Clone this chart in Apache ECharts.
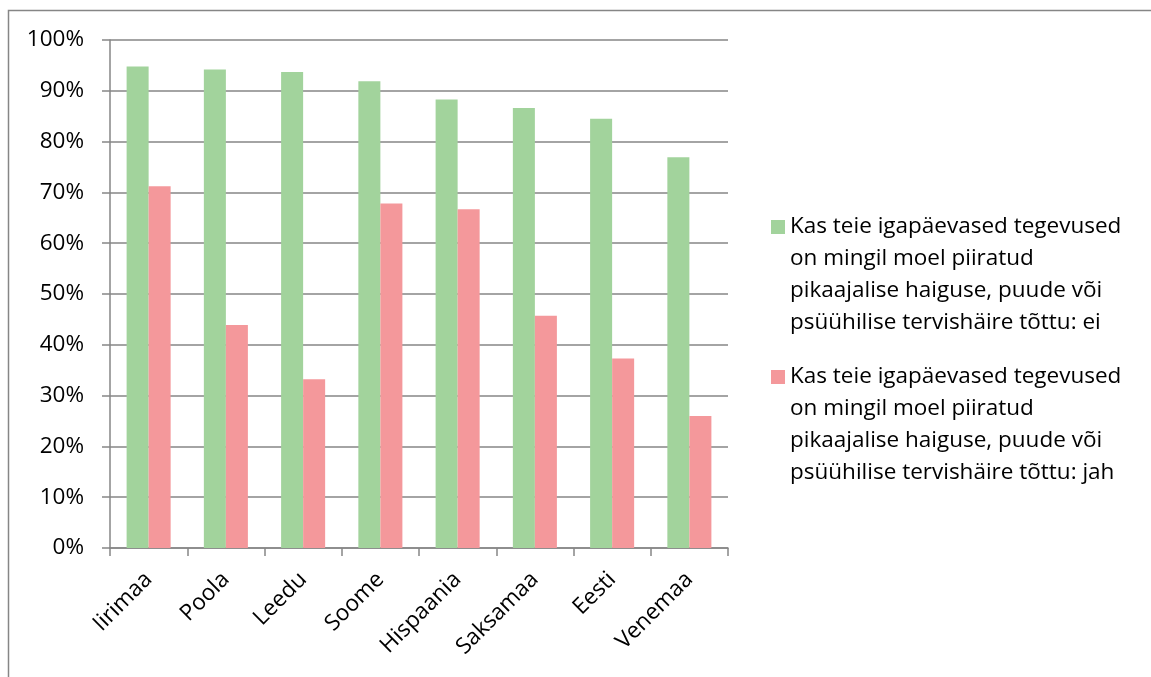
<!DOCTYPE html>
<html>
<head>
<meta charset="utf-8">
<script src="https://cdn.jsdelivr.net/npm/echarts@6/dist/echarts.min.js"></script>
<style>
html,body{margin:0;padding:0;background:#fff;}
#chart{width:1151px;height:677px;}
</style>
</head>
<body>
<div id="chart"></div>
<script>
const categories = ['Iirimaa', 'Poola', 'Leedu', 'Soome', 'Hispaania', 'Saksamaa', 'Eesti', 'Venemaa'];
const seriesNames = [
  'Kas teie igapäevased tegevused on mingil moel piiratud pikaajalise haiguse, puude või psüühilise tervishäire tõttu: ei',
  'Kas teie igapäevased tegevused on mingil moel piiratud pikaajalise haiguse, puude või psüühilise tervishäire tõttu: jah'
];
const legendLines = [
  ['Kas teie igapäevased tegevused', 'on mingil moel piiratud', 'pikaajalise haiguse, puude või', 'psüühilise tervishäire tõttu: ei'],
  ['Kas teie igapäevased tegevused', 'on mingil moel piiratud', 'pikaajalise haiguse, puude või', 'psüühilise tervishäire tõttu: jah']
];
const valuesEi = [94.8, 94.2, 93.7, 91.9, 88.3, 86.6, 84.5, 76.9];
const valuesJah = [71.2, 43.9, 33.2, 67.8, 66.7, 45.7, 37.3, 26.0];
const yTicks = { min: 0, max: 100, interval: 10 };

const FONT = '"Open Sans", sans-serif';
const chart = echarts.init(document.getElementById('chart'), null, { renderer: 'canvas' });

function legendFor(idx, top) {
  return {
    orient: 'vertical',
    left: 771,
    top: top,
    padding: 0,
    itemWidth: 14,
    itemHeight: 14,
    itemGap: 0,
    icon: 'rect',
    selectedMode: false,
    data: [seriesNames[idx]],
    // three leading blank lines keep the first text line level with the marker
    formatter: function () { return '\n\n\n' + legendLines[idx].join('\n'); },
    textStyle: {
      fontFamily: FONT,
      fontSize: 22.5,
      color: '#000',
      lineHeight: 32
    }
  };
}

chart.setOption({
  animation: false,
  backgroundColor: '#fff',
  graphic: [{
    type: 'rect',
    shape: { x: 8.5, y: 10.5, width: 1300, height: 800 },
    style: { fill: 'none', stroke: '#868686', lineWidth: 1.5 },
    silent: true
  }],
  legend: [legendFor(0, 115), legendFor(1, 265)],
  grid: { left: 110, right: 423, top: 40, bottom: 129, containLabel: false },
  xAxis: {
    type: 'category',
    data: categories,
    axisLine: { lineStyle: { color: '#868686', width: 1.5 } },
    axisTick: { show: true, length: 8, lineStyle: { color: '#868686', width: 1.5 } },
    axisLabel: {
      rotate: 45,
      interval: 0,
      margin: 28,
      fontFamily: FONT,
      fontSize: 22.5,
      color: '#000'
    }
  },
  yAxis: {
    type: 'value',
    min: yTicks.min,
    max: yTicks.max,
    interval: yTicks.interval,
    axisLine: { show: true, lineStyle: { color: '#868686', width: 1.5 } },
    axisTick: { show: true, length: 8, lineStyle: { color: '#868686', width: 1.5 } },
    splitLine: { lineStyle: { color: '#868686', width: 1.5 } },
    axisLabel: {
      formatter: '{value}%',
      margin: 26,
      fontFamily: FONT,
      fontSize: 22.5,
      color: '#000'
    }
  },
  series: [
    {
      name: seriesNames[0],
      type: 'bar',
      data: valuesEi,
      barGap: '0%',
      barCategoryGap: '43%',
      itemStyle: { color: '#A2D39C' }
    },
    {
      name: seriesNames[1],
      type: 'bar',
      data: valuesJah,
      barGap: '0%',
      barCategoryGap: '43%',
      itemStyle: { color: '#F4989B' }
    }
  ]
});
</script>
</body>
</html>
